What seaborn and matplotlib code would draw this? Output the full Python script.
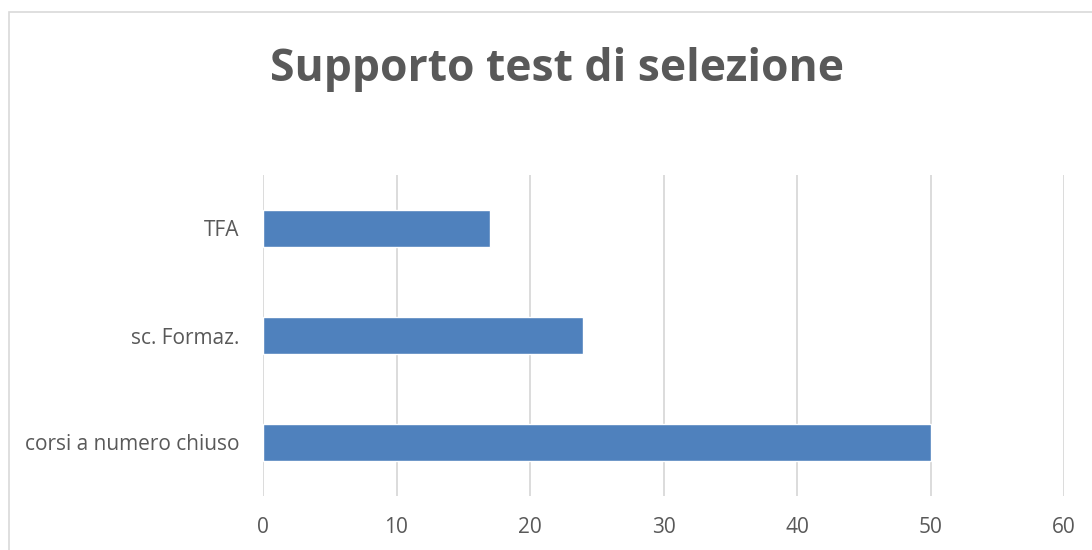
import matplotlib
matplotlib.use("Agg")
import matplotlib.pyplot as plt
import seaborn as sns
import pandas as pd
from matplotlib.patches import Rectangle

categorie = ["TFA", "sc. Formaz.", "corsi a numero chiuso"]
valori = [17, 24, 50]
xticks = [0, 10, 20, 30, 40, 50, 60]

sns.set_style("white")
plt.rcParams['font.family'] = ['Open Sans', 'DejaVu Sans']

df = pd.DataFrame({"categoria": categorie, "valore": valori})

fig = plt.figure(figsize=(10.92, 5.5), dpi=100)
ax = fig.add_axes([263/1092, 1 - 496/550, (1064 - 263)/1092, (496 - 175)/550])

# cornice grigia del grafico
fig.patches.append(Rectangle((9/1092, -0.05), 1.1, 1 - 12/550 + 0.05, transform=fig.transFigure,
                             fill=False, edgecolor="#D9D9D9", linewidth=1.2))

sns.barplot(data=df, x="valore", y="categoria", orient="h", color="#4F81BD",
            saturation=1, width=0.35, ax=ax, zorder=3)

ax.set_xlim(0, 60)
ax.set_ylim(2.5, -0.5)
ax.set_xticks(xticks)
ax.xaxis.grid(True, color="#D9D9D9", linewidth=1.3, zorder=0)
ax.yaxis.grid(False)
for s in ax.spines.values():
    s.set_visible(False)
ax.tick_params(axis="x", length=0, pad=15, labelsize=15, labelcolor="#595959")
ax.tick_params(axis="y", length=0, pad=17, labelsize=15, labelcolor="#595959")
ax.set_xlabel("")
ax.set_ylabel("")

fig.text(557/1092, 1 - 70/550, "Supporto test di selezione", ha="center", va="center",
         fontsize=32, fontweight="bold", color="#595959")

fig.savefig("out.png", dpi=100)
